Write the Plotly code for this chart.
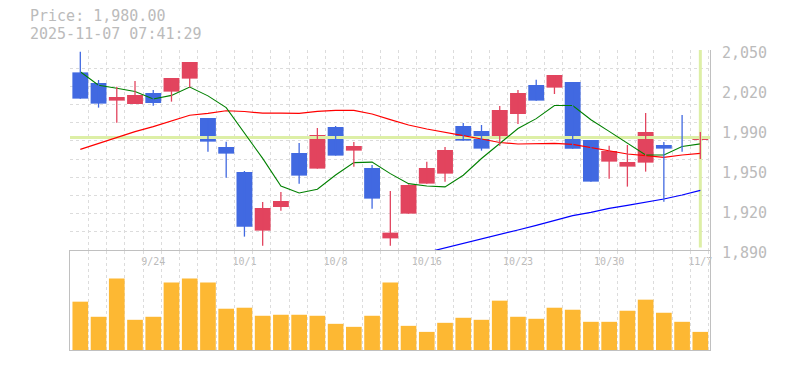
import plotly.graph_objects as go

# ---------------- data ----------------
dates = ["9/17", "9/18", "9/19", "9/22", "9/24", "9/25", "9/26", "9/29", "9/30",
         "10/1", "10/2", "10/3", "10/6", "10/7", "10/8", "10/9", "10/10", "10/14",
         "10/15", "10/16", "10/17", "10/20", "10/21", "10/22", "10/23", "10/24",
         "10/27", "10/28", "10/29", "10/30", "10/31", "11/4", "11/5", "11/6", "11/7"]

open_ = [2032.1, 2023.6, 2009.5, 2006.8, 2015.6, 2016.7, 2027.1, 1995.6, 1972.4,
         1952.4, 1905.5, 1924.4, 1967.6, 1955.1, 1988.4, 1969.5, 1955.6, 1899.3,
         1919.1, 1943.1, 1951.1, 1989.2, 1985.2, 1980.0, 1998.8, 2022.0, 2019.9,
         2024.4, 1978.0, 1960.7, 1956.7, 1959.9, 1974.0, 1980.4, 1978.6]
high = [2048.7, 2026.0, 2020.7, 2025.2, 2018.0, 2027.6, 2040.4, 1995.6, 1976.7,
        1953.2, 1928.4, 1936.4, 1975.6, 1987.6, 1989.2, 1976.4, 1958.0, 1937.2,
        1942.5, 1960.7, 1972.4, 1991.6, 1990.0, 2005.2, 2018.0, 2026.3, 2030.0,
        2024.4, 1978.0, 1973.5, 1974.0, 1999.6, 1976.4, 1998.0, 1984.4]
low = [2011.1, 2003.9, 1991.9, 2006.8, 2005.5, 2008.7, 2020.1, 1968.7, 1947.9,
       1900.7, 1893.5, 1921.5, 1943.1, 1955.1, 1965.5, 1956.7, 1923.1, 1893.5,
       1919.1, 1943.1, 1944.7, 1977.5, 1969.5, 1973.5, 1990.8, 2009.5, 2014.8,
       1971.1, 1944.7, 1947.1, 1940.7, 1952.7, 1928.7, 1968.7, 1962.8]
close = [2011.1, 2007.1, 2012.4, 2014.0, 2007.6, 2027.6, 2040.4, 1976.7, 1967.1,
         1908.7, 1923.6, 1929.2, 1949.5, 1982.0, 1965.5, 1973.2, 1931.1, 1903.9,
         1942.0, 1955.6, 1970.0, 1977.5, 1971.1, 2002.0, 2015.6, 2009.5, 2030.0,
         1971.1, 1944.7, 1969.2, 1960.4, 1984.4, 1971.1, 1978.8, 1980.0]

ma5 = [2032.6, 2021.8, 2019.4, 2016.8, 2010.8, 2013.7, 2020.4, 2013.3, 2003.9,
       1984.1, 1963.3, 1941.1, 1935.6, 1938.6, 1950.0, 1959.9, 1960.3, 1951.1,
       1943.1, 1941.2, 1940.5, 1949.8, 1963.2, 1975.2, 1987.2, 1995.1, 2005.6,
       2005.6, 1994.2, 1984.9, 1975.1, 1966.0, 1966.0, 1972.8, 1974.9]
ma25 = [1970.5, 1975.2, 1980.4, 1984.7, 1988.7, 1993.0, 1997.8, 1999.3, 2001.4,
        2000.8, 1999.5, 1999.5, 1999.3, 2000.9, 2001.7, 2001.7, 1998.8, 1994.3,
        1990.0, 1986.8, 1983.9, 1981.5, 1978.8, 1976.0, 1974.8, 1974.8, 1975.3,
        1974.5, 1972.1, 1969.5, 1966.8, 1965.5, 1964.1, 1966.0, 1967.3]
ma75 = [None] * 19 + [1888.1, 1891.6, 1895.0, 1898.8, 1902.5, 1906.0, 1909.7,
                      1913.5, 1917.5, 1920.1, 1923.3, 1925.7, 1928.1, 1930.8,
                      1934.0, 1937.7]

volume = [144000, 99000, 213000, 90000, 99000, 201000, 213000, 201000, 123000,
          126000, 102000, 105000, 105000, 102000, 78000, 69000, 102000, 201000,
          72000, 54000, 81000, 96000, 90000, 147000, 99000, 93000, 126000,
          120000, 84000, 84000, 117000, 150000, 111000, 84000, 54000]

label_dates = ["9/24", "10/1", "10/8", "10/16", "10/23", "10/30", "11/7"]
price_tick_vals = [2050, 2018, 1986, 1954, 1922, 1890]
price_tick_text = ["2,050", "2,020", "1,990", "1,950", "1,920", "1,890"]
timestamp = "2025-11-07 07:41:29"

# ---------------- styling ----------------
RED = "#E2445E"
BLUE = "#4169E1"
VOLC = "#FDB833"
GRID = "#dcdcdc"
AXC = "#c0c0c0"
TXT = "#bbbbbb"
HILITE = "#DDEFA6"
MONO = "DejaVu Sans Mono"
P_MIN, P_MAX = 1890, 2050
V_MAX = 295000

n = len(dates)
idx = list(range(n))
up = [c >= o for o, c in zip(open_, close)]
x_range = [-0.565, n - 1 + 0.53]
grid_x = [k - 0.55 for k in range(n + 1)]
grid_y = [P_MIN + k * (P_MAX - P_MIN) / 11 for k in range(12)]

fig = go.Figure()

# current-price highlight (behind everything)
fig.add_trace(go.Scatter(x=x_range, y=[close[-1], close[-1]], mode="lines",
                         line=dict(color=HILITE, width=3)))
fig.add_trace(go.Scatter(x=[idx[-1], idx[-1]], y=[P_MIN + 2, P_MAX],
                         mode="lines", line=dict(color=HILITE, width=3)))

# moving averages (behind candles)
fig.add_trace(go.Scatter(x=idx, y=ma75, mode="lines",
                         line=dict(color="#0000FF", width=1.2)))
fig.add_trace(go.Scatter(x=idx, y=ma25, mode="lines",
                         line=dict(color="#FF0000", width=1.2)))
fig.add_trace(go.Scatter(x=idx, y=ma5, mode="lines",
                         line=dict(color="#008000", width=1.1)))

# wicks
for color, flag in ((RED, True), (BLUE, False)):
    xs, ys = [], []
    for i in idx:
        if up[i] == flag:
            xs += [i, i, None]
            ys += [low[i], high[i], None]
    fig.add_trace(go.Scatter(x=xs, y=ys, mode="lines",
                             line=dict(color=color, width=1.3)))

# bodies
body_base = [min(o, c) for o, c in zip(open_, close)]
body_h = [max(abs(c - o), 1.3) for o, c in zip(open_, close)]
fig.add_trace(go.Bar(x=idx, y=body_h, base=body_base, width=0.87,
                     marker=dict(color=[RED if u else BLUE for u in up],
                                 line=dict(width=0))))

# volume
fig.add_trace(go.Bar(x=idx, y=volume, width=0.86, xaxis="x2", yaxis="y2",
                     marker=dict(color=VOLC, line=dict(width=0))))

label_idx = [dates.index(d) for d in label_dates]

# page body has an 8px margin -> figure is 8px smaller, margins 8px less
fig.update_layout(
    width=777, height=362,
    margin=dict(l=62, r=75, t=42, b=20, autoexpand=False),
    paper_bgcolor="white", plot_bgcolor="white",
    showlegend=False, hovermode=False,
    barmode="overlay",
    xaxis=dict(domain=[0, 1], anchor="y", range=x_range, automargin=False,
               tickmode="array", tickvals=label_idx, ticktext=label_dates,
               tickfont=dict(family=MONO, size=10, color=TXT),
               ticks="", showgrid=False, zeroline=False, showline=False,
               ticklabelstandoff=4,
               minor=dict(tickmode="array", tickvals=grid_x, showgrid=True,
                          gridcolor=GRID, griddash="3px,3px", gridwidth=1,
                          ticks="")),
    yaxis=dict(domain=[1 / 3, 1], anchor="x", side="right", automargin=False,
               range=[P_MIN, P_MAX], tickmode="array",
               tickvals=price_tick_vals, ticktext=price_tick_text,
               tickfont=dict(family=MONO, size=15, color=TXT),
               ticklabelstandoff=8, ticklabelshift=3,
               showgrid=False, zeroline=False, showline=True,
               linecolor=AXC, linewidth=1, ticks="",
               minor=dict(tickmode="array", tickvals=grid_y, showgrid=True,
                          gridcolor=GRID, griddash="3px,3px", gridwidth=1,
                          ticks="")),
    xaxis2=dict(domain=[0, 1], anchor="y2", range=x_range, automargin=False,
                tickmode="linear", tick0=-0.55, dtick=1,
                showticklabels=False, showgrid=True, gridcolor=GRID,
                griddash="3px,3px", zeroline=False, showline=True,
                mirror=True, linecolor=AXC, linewidth=1, ticks=""),
    yaxis2=dict(domain=[0, 0.33], anchor="x2", range=[0, V_MAX],
                automargin=False,
                showticklabels=False, showgrid=False, zeroline=False,
                showline=True, mirror=True, linecolor=AXC, linewidth=1,
                ticks=""),
    annotations=[
        dict(xref="paper", yref="paper", x=-41 / 640, y=(350 - 16.3) / 300,
             xanchor="left", yanchor="middle", showarrow=False,
             borderpad=0,
             text=f"Price: {close[-1]:,.2f}",
             font=dict(family=MONO, size=15, color=TXT)),
        dict(xref="paper", yref="paper", x=-41 / 640, y=(350 - 34.3) / 300,
             xanchor="left", yanchor="middle", showarrow=False,
             borderpad=0,
             text=timestamp,
             font=dict(family=MONO, size=15, color=TXT)),
    ],
)

fig.write_html("out.html")
